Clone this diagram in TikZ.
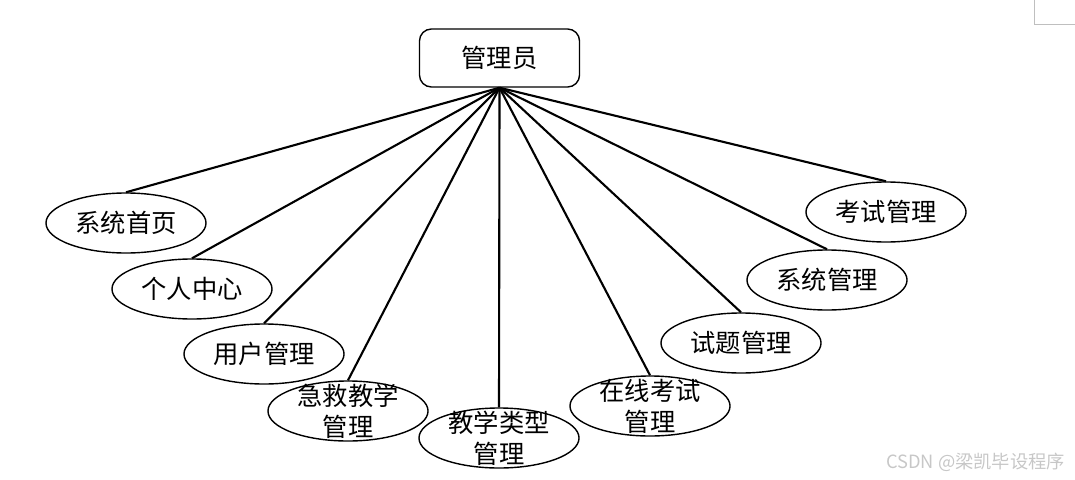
\documentclass[tikz,border=0pt]{standalone}
\usepackage{fontspec}
\newfontfamily\cjk{Noto Sans CJK SC}
\usepackage{tikz}
\usetikzlibrary{shapes.geometric}

\begin{document}
\begin{tikzpicture}[x=0.025cm,y=-0.025cm,
	font=\cjk\fontsize{18}{21}\selectfont,
	root/.style={draw,rounded corners=8.5pt,line width=1pt,minimum width=4cm,minimum height=1.45cm,inner sep=0pt},
	leaf/.style={draw,ellipse,line width=1pt,minimum width=4cm,minimum height=1.5cm,inner sep=0pt},
	twoline/.style={label={[align=center,font=\cjk\fontsize{18}{22}\selectfont]center:#1}},
	link/.style={line width=1.5pt}]
	\useasboundingbox (0,0) rectangle (1075,479);
	\node [root] (admin) at (499.5,58) {管理员};
	\node [leaf] (home) at (126,223) {系统首页};
	\node [leaf] (center) at (192,289) {个人中心};
	\node [leaf] (user) at (264,354) {用户管理};
	\node [leaf,twoline={急救教学\\管理}] (aid) at (348,411) {};
	\node [leaf,twoline={教学类型\\管理}] (type) at (499,438) {};
	\node [leaf,twoline={在线考试\\管理}] (online) at (650,406) {};
	\node [leaf] (question) at (741,343) {试题管理};
	\node [leaf] (system) at (827,280) {系统管理};
	\node [leaf] (exam) at (886,212) {考试管理};
	\foreach \n in {home,center,user,aid,type,online,question,system,exam}
		\draw [link] (admin.south) -- (\n.north);
	% watermark and page corner
	\node [anchor=east,text=black!22,font=\cjk\fontsize{13}{15}\selectfont] (mark) at (1070,462) {CSDN @梁凯毕设程序};
	\coordinate (c1) at (1034,0);
	\coordinate (c2) at (1034,24);
	\coordinate (c3) at (1075,24);
	\draw [black!25,line width=0.7pt] (c1) -- (c2) -- (c3);
\end{tikzpicture}
\end{document}
